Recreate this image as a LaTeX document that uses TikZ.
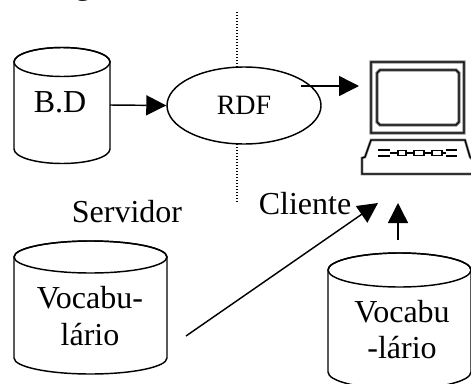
\documentclass[tikz,border=0pt]{standalone}
\usepackage{fontspec}
\setmainfont{Liberation Serif}
\usetikzlibrary{arrows.meta,shapes.geometric}
\tikzset{
  x=1pt,y=-1pt,
  ln/.style={draw=black,line width=1.45pt},
  conn/.style={ln,-{Triangle[length=20pt,width=20pt]}},
  lbl/.style={inner sep=0pt,anchor=base,font=\fontsize{32}{36}\selectfont},
  sep/.style={draw=black,line width=1.1pt,dash pattern=on 1.1pt off 1.9pt},
  cyl/.style={ln,fill=white},
  halo/.style={draw=black!45,line width=3.2pt,line join=miter},
  crisp/.style={draw=black,line width=1.4pt,line join=miter}
}
% name, x1, x2, ytop, ybot, y radius
\newcommand{\drum}[6]{%
  \path[cyl] (#2,#4) arc[x radius={(#3-#2)/2},y radius=#6,start angle=180,end angle=360]
     -- (#3,#5) arc[x radius={(#3-#2)/2},y radius=#6,start angle=0,end angle=180] -- cycle;
  \path[ln] (#2,#4) arc[x radius={(#3-#2)/2},y radius=#6,start angle=180,end angle=-180];
  \coordinate (#1) at ({(#2+#3)/2},{(#4+#5)/2});
}
\newcommand{\screenpath}{(371,62) rectangle (464,133)
  (380,70) -- (456,70) -- (459,73) -- (459,122) -- (456,125) -- (380,125) -- (377,122) -- (377,73) -- cycle}
\newcommand{\kbdpath}{(371,140) -- (465,140) -- (470,157) -- (473,160) -- (473,174) -- (362,174) -- (362,158) -- (365,157) -- cycle}
\newcommand{\keypath}{(378,150) -- (390,150) (378,156) -- (390,156) (390,153) -- (398,153)
  (398,150.5) rectangle (406,155.5) (406,153) -- (414,153)
  (414,150.5) rectangle (424,155.5) (424,153) -- (432,153)
  (432,150.5) rectangle (442,155.5) (442,153) -- (446,153)
  (446,150) -- (457,150) (446,156) -- (457,156)}
\begin{document}
\begin{tikzpicture}
\useasboundingbox (0,0) rectangle (471,383);
\clip (0,0) rectangle (471,383);
\fill[white] (0,0) rectangle (471,383);
\node[lbl] (topg) at (83,-6) {g};

\coordinate (sepTop) at (237,12);
\coordinate (sepBot) at (237,203);
\draw[sep] (sepTop) -- (sepBot);

\drum{bdc}{14}{110}{62}{149}{14.5}
\node[lbl] (bd) at (60,112) {B.D};

\node[ln,fill=white,ellipse,inner sep=0pt,minimum width=154pt,minimum height=77pt] (rdf) at (244,105.5) {};
\node[lbl,font=\fontsize{28}{32}\selectfont] (rdft) at (244,114) {RDF};

\drum{voc}{14}{167}{257}{358}{16}
\node[lbl] (servidor) at (127,222) {Servidor};
\node[lbl] (v1) at (90,308) {Vocabu-};
\node[lbl] (v2) at (90,345) {lário};

\drum{vocr}{328}{471}{270}{372}{17}
\node[lbl] (c1) at (402,322) {Vocabu};
\node[lbl] (c2) at (402,358) {-lário};

\node[lbl] (cliente) at (305,214) {Cliente};

% computer
\draw[halo] \screenpath;
\draw[crisp] \screenpath;
\draw[draw=black!45,line width=2.6pt] \kbdpath;
\draw[crisp,line width=1.3pt] \kbdpath;
\draw[draw=black,line width=1.2pt] \keypath;
\node[inner sep=0pt,minimum width=93pt,minimum height=71pt] (pc) at (417.5,97.5) {};

% connectors
\coordinate (bdE) at (110,105);
\coordinate (rdfOut) at (301,86);
\coordinate (pcIn) at (359,86);
\coordinate (vocE) at (186,336);
\coordinate (pcSlant) at (378,203);
\coordinate (vocrN) at (398,240);
\coordinate (pcUp) at (398,203);
\draw[conn] (bdE) -- (rdf.west);
\draw[conn] (rdfOut) -- (pcIn);
\draw[conn] (vocE) -- (pcSlant);
\draw[conn] (vocrN) -- (pcUp);
\end{tikzpicture}
\end{document}
